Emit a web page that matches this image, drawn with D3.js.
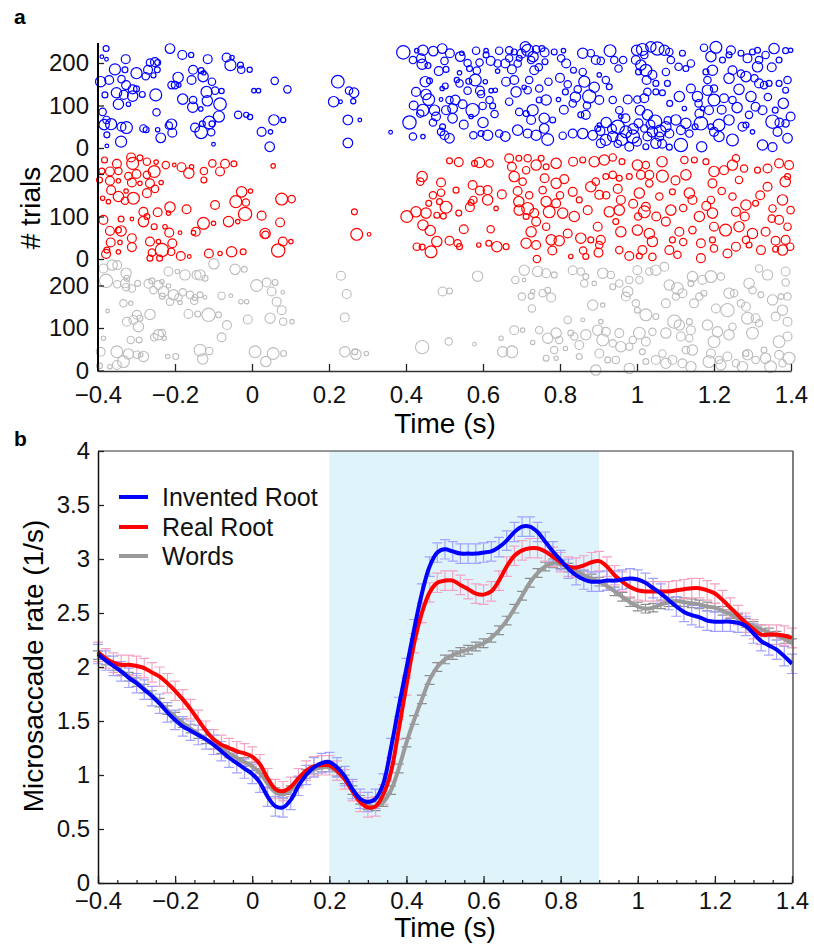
<!DOCTYPE html>
<html>
<head>
<meta charset="utf-8">
<script src="https://cdn.jsdelivr.net/npm/d3@7"></script>
<style>
body { margin: 0; background: #fff; }
svg text { font-family: "Liberation Sans", Arial, Helvetica, sans-serif; }
</style>
</head>
<body>
<svg id="fig" width="814" height="947"></svg>
<script>
// ---- data ----
// panel a: one microsaccade per entry -> [time (s), trial #, amplitude]
var inventedPts = [
[-0.379,234,0.8],[-0.39,215,0.5],[-0.378,209,0.5],[-0.328,209,1.2],[-0.356,185,1.5],[-0.33,184,0.8],[-0.393,156,1.4],[-0.371,160,1.2],[-0.339,162,1.0],[-0.327,148,1.2],[-0.352,130,1.4],[-0.333,125,1.2],[-0.31,122,1.4],[-0.382,125,0.8],[-0.347,103,1.4],[-0.321,103,0.6],[-0.3,176,1.5],[-0.276,169,1.0],[-0.27,184,1.2],[-0.265,201,1.0],[-0.252,202,1.2],[-0.245,201,0.8],[-0.246,184,0.8],[-0.256,171,0.7],[-0.213,234,1.3],[-0.181,219,1.2],[-0.158,219,0.7],[-0.115,209,1.2],[-0.066,213,1.2],[-0.056,195,1.5],[-0.052,213,0.6],[-0.03,195,0.8],[-0.028,184,1.0],[-0.006,184,0.7],[-0.153,184,1.2],[-0.132,182,0.8],[-0.125,177,0.6],[-0.127,168,1.4],[-0.104,156,1.0],[-0.192,166,1.4],[-0.209,148,1.0],[-0.2,148,1.0],[-0.19,148,0.6],[-0.157,160,1.2],[-0.118,132,1.5],[-0.096,135,1.0],[-0.079,134,0.7],[-0.25,125,1.6],[-0.31,138,1.2],[-0.3,139,0.8],[-0.285,126,0.8],[-0.18,115,1.4],[-0.153,113,1.0],[-0.154,96,1.4],[-0.116,111,1.4],[-0.083,103,1.7],[-0.133,92,0.6],[-0.248,84,1.0],[-0.388,85,1.0],[-0.378,66,1.0],[-0.384,55,1.4],[-0.366,56,1.5],[-0.339,50,1.2],[-0.326,48,1.6],[-0.377,31,0.8],[-0.377,5,0.5],[-0.34,15,1.5],[-0.282,46,1.0],[-0.275,43,0.8],[-0.245,43,0.6],[-0.237,24,1.3],[-0.209,56,1.4],[-0.216,53,1.0],[-0.207,36,1.2],[-0.148,48,1.2],[-0.132,37,1.7],[-0.111,60,1.7],[-0.086,74,1.5],[-0.129,57,0.8],[-0.104,57,0.8],[-0.106,37,1.0],[-0.1,9,0.5],[-0.036,78,1.0],[-0.015,78,0.7],[-0.005,73,0.7],[0.005,135,0.6],[0.017,135,0.6],[0.059,158,1.0],[0.092,138,1.0],[0.025,38,1.2],[0.048,38,0.6],[0.046,3,1.3],[0.057,66,1.4],[0.081,66,0.7],[0.223,156,1.7],[0.212,109,1.4],[0.23,109,0.5],[0.252,135,1.0],[0.265,130,1.3],[0.263,110,0.7],[0.249,66,1.3],[0.28,66,0.5],[0.249,12,1.3],[0.36,37,0.5],
[0.393,225,1.8],[0.418,207,1.0],[0.428,229,0.6],[0.444,230,1.4],[0.439,211,1.2],[0.442,197,1.4],[0.457,194,0.8],[0.471,228,1.3],[0.494,234,1.3],[0.514,223,1.2],[0.485,181,1.2],[0.504,185,0.8],[0.426,132,1.2],[0.45,156,1.4],[0.461,158,0.8],[0.452,126,1.4],[0.459,114,1.6],[0.444,89,1.6],[0.437,81,1.0],[0.474,89,1.4],[0.478,74,1.2],[0.409,60,1.8],[0.418,27,1.0],[0.444,27,0.6],[0.494,140,0.6],[0.502,146,0.8],[0.491,114,0.5],[0.513,113,1.0],[0.504,89,1.2],[0.521,70,1.3],[0.491,38,1.0],[0.5,30,1.2],[0.513,23,1.3],[0.495,50,0.8],
[0.541,215,1.3],[0.545,223,0.6],[0.582,229,1.0],[0.608,229,0.6],[0.608,219,0.8],[0.591,201,1.0],[0.565,187,0.8],[0.539,177,0.6],[0.584,182,1.0],[0.58,160,1.6],[0.563,157,0.8],[0.606,156,0.6],[0.592,135,1.2],[0.595,127,1.0],[0.532,160,0.7],[0.539,152,1.0],[0.56,135,1.0],[0.528,113,1.3],[0.521,93,1.3],[0.547,103,1.2],[0.573,89,1.8],[0.599,99,1.0],[0.621,135,0.6],[0.632,136,0.6],[0.569,74,0.6],[0.575,30,1.0],[0.595,34,0.8],[0.612,30,1.4],[0.642,34,1.0],[0.658,27,1.3],[0.625,99,0.8],[0.617,113,1.0],[0.642,229,1.0],[0.638,199,1.0],[0.638,181,0.6],
[0.668,230,1.0],[0.681,226,0.8],[0.71,238,1.4],[0.716,230,1.6],[0.738,232,1.0],[0.753,234,0.8],[0.668,211,1.0],[0.694,211,0.8],[0.725,207,1.0],[0.658,199,1.2],[0.69,199,1.0],[0.733,183,1.2],[0.761,203,0.8],[0.66,156,1.2],[0.681,160,1.2],[0.72,160,1.0],[0.707,143,0.6],[0.686,132,1.4],[0.716,136,1.0],[0.746,140,1.0],[0.77,156,1.0],[0.668,109,1.0],[0.694,85,1.0],[0.712,81,0.8],[0.729,89,1.5],[0.759,70,1.4],[0.725,66,1.2],[0.764,113,1.4],[0.746,113,0.8],[0.69,42,1.4],[0.716,34,1.2],[0.738,30,1.4],[0.768,20,1.6],[0.759,46,1.3],[0.781,66,0.8],[0.807,29,1.0],
[0.785,226,0.8],[0.809,229,0.6],[0.803,211,1.0],[0.816,199,1.2],[0.835,183,0.8],[0.859,223,1.4],[0.88,223,1.0],[0.893,207,1.2],[0.906,205,1.0],[0.93,229,1.6],[0.859,179,1.0],[0.863,156,1.5],[0.889,143,1.4],[0.876,121,1.8],[0.902,113,1.2],[0.846,138,1.0],[0.814,132,0.8],[0.796,114,0.6],[0.833,105,1.0],[0.854,78,0.8],[0.867,78,1.2],[0.833,34,1.2],[0.859,34,1.4],[0.885,30,1.3],[0.898,46,0.8],[0.902,54,0.6],[0.919,19,1.5],[0.906,11,1.2],[0.919,160,1.0],[0.902,172,0.6],[0.928,144,0.8],
[0.941,207,1.0],[0.952,187,1.0],[0.964,207,1.0],[0.937,113,1.0],[0.954,89,1.0],[0.976,114,1.2],[0.958,74,0.6],[0.95,50,1.8],[0.971,38,1.6],[0.989,27,1.8],[0.98,3,1.2],[0.937,27,1.4],[0.999,230,1.4],[1.014,232,1.6],[1.036,238,1.4],[1.053,234,1.8],[0.997,207,1.2],[1.019,219,1.0],[1.01,195,1.4],[1.023,183,1.6],[1.004,179,0.8],[1.025,160,1.2],[1.04,172,1.2],[1.049,152,0.8],[1.027,132,1.0],[1.049,132,0.8],[1.066,130,0.8],[1.001,114,1.0],[1.019,117,1.2],[1.008,89,1.3],[1.027,78,1.4],[1.047,62,1.8],[1.004,58,1.2],[1.019,46,1.0],[1.04,38,1.4],[1.027,27,1.2],[1.058,27,1.2],[1.049,11,1.4],[1.023,3,0.8],[1.075,50,1.4],
[1.071,230,1.4],[1.084,226,1.0],[1.088,207,1.0],[1.118,223,0.8],[1.108,191,1.0],[1.14,199,1.0],[1.127,187,0.8],[1.075,179,1.0],[1.079,152,0.8],[1.11,121,1.4],[1.085,105,0.8],[1.123,93,0.6],[1.101,66,1.4],[1.127,58,1.4],[1.114,42,1.2],[1.084,34,1.2],[1.136,34,1.0],[1.114,7,1.8],[1.084,2,0.8],[1.157,121,1.4],[1.162,81,1.2],[1.166,58,1.8],[1.151,50,0.8],[1.174,236,1.0],[1.192,215,1.4],[1.179,179,0.8],[1.196,183,1.4],[1.183,160,1.0],[1.183,136,1.4],[1.2,113,1.6],[1.187,89,1.2],[1.17,93,0.6],[1.192,50,0.8],[1.213,54,1.6],[1.2,38,1.2],[1.213,27,1.4],[1.168,3,1.4],[1.205,237,1.6],
[1.244,230,1.2],[1.239,219,0.8],[1.222,207,0.8],[1.248,183,1.2],[1.239,164,1.4],[1.265,138,1.4],[1.226,117,1.2],[1.248,113,1.0],[1.239,66,1.4],[1.248,19,1.6],[1.274,50,1.2],[1.27,223,0.8],[1.287,211,1.2],[1.3,226,0.8],[1.313,230,0.8],[1.317,207,1.0],[1.313,191,1.4],[1.334,219,1.0],[1.356,234,1.4],[1.369,207,0.8],[1.386,229,0.8],[1.399,230,0.6],[1.283,168,1.4],[1.305,164,1.0],[1.317,152,1.2],[1.33,148,1.0],[1.343,152,0.8],[1.369,152,0.8],[1.391,160,1.0],[1.386,136,0.8],[1.296,121,1.4],[1.308,97,1.2],[1.326,89,1.2],[1.359,89,0.8],[1.291,78,1.0],[1.352,62,1.8],[1.386,58,1.0],[1.399,74,1.2],[1.365,38,1.2],[1.391,23,1.3],[1.326,7,1.4],[1.352,2,1.2],[1.3,38,0.6],[1.283,54,0.8],
[0.92,60,1.4],[0.935,45,1.2],[0.96,20,1.6],[0.99,45,1.4],[1.0,15,1.2],[1.035,55,1.2],[1.06,40,1.6],[1.065,10,1.2],[0.95,10,1.0],[0.905,40,1.2],[1.08,65,1.0],[0.97,70,1.2],[0.7,222,1.2],[0.73,215,1.4],[0.745,190,1.0],[0.675,185,1.2],[0.76,225,1.2],[0.8,165,1.2],[0.82,150,1.0],[0.84,120,1.4],[0.87,100,1.0],[0.81,90,1.2],[1.14,140,1.2],[1.16,105,1.0],[1.2,140,1.0],[1.22,90,1.2],[1.26,95,1.4],[1.27,175,1.0],[1.35,190,1.2],[1.38,105,1.4],[1.34,120,1.0],[1.37,60,1.2],[0.42,100,1.2],[0.47,60,1.0],[0.55,55,1.2],[0.6,60,1.4],[0.63,80,1.0],[0.56,200,1.0],[0.62,205,1.2],[0.5,205,1.0]
];
var realPts = [
[-0.383,233,0.8],[-0.351,224,1.2],[-0.314,239,1.2],[-0.31,225,1.6],[-0.291,238,0.8],[-0.273,229,1.0],[-0.249,228,0.6],[-0.224,221,1.0],[-0.202,221,0.5],[-0.183,216,1.2],[-0.157,217,0.6],[-0.164,202,1.4],[-0.103,225,1.0],[-0.07,224,1.2],[-0.047,224,0.8],[-0.083,206,1.2],[-0.125,207,1.0],[-0.125,186,0.8],[-0.39,207,0.8],[-0.369,206,1.2],[-0.347,207,1.0],[-0.321,195,1.0],[-0.3,200,1.2],[-0.254,206,1.6],[-0.273,198,1.0],[-0.396,186,0.8],[-0.369,184,1.2],[-0.347,184,0.6],[-0.312,180,1.2],[-0.291,178,0.6],[-0.265,178,1.2],[-0.236,180,0.6],[-0.273,155,1.2],[-0.252,165,1.0],[-0.366,162,1.2],[-0.347,147,1.4],[-0.327,160,0.6],[-0.33,137,1.0],[-0.308,143,1.6],[-0.388,143,0.6],[-0.373,135,0.6],[-0.282,111,1.2],[-0.282,88,1.4],[-0.273,100,0.8],[-0.245,110,1.2],[-0.213,122,1.4],[-0.17,117,1.2],[-0.217,108,0.6],[-0.386,92,1.2],[-0.34,94,0.8],[-0.312,94,0.5],[-0.254,76,0.8],[-0.226,76,0.6],[-0.215,62,1.2],[-0.369,66,1.2],[-0.34,66,1.4],[-0.347,68,0.8],[-0.312,49,1.2],[-0.343,39,0.6],[-0.367,39,1.2],[-0.377,21,0.8],[-0.379,12,1.2],[-0.347,17,0.6],[-0.312,28,1.2],[-0.265,41,1.2],[-0.243,41,0.6],[-0.234,21,1.8],[-0.26,15,1.0],[-0.265,2,0.8],[-0.24,2,0.8],[-0.207,37,1.2],[-0.21,17,1.0],[-0.185,7,1.2],[-0.163,6,0.5],[-0.187,62,0.5],[-0.152,62,0.6],[-0.146,64,1.2],[-0.126,84,1.6],[-0.1,84,0.6],[-0.096,127,1.2],[-0.042,135,1.6],[-0.016,133,1.0],[-0.027,158,1.4],[-0.004,160,0.6],[-0.018,106,1.8],[-0.061,88,1.4],[-0.037,88,0.6],[0.025,102,1.2],[0.034,60,1.4],[0.035,57,1.0],[0.077,141,1.6],[0.103,141,1.0],[0.073,86,1.2],[0.08,41,1.2],[0.101,41,0.6],[0.068,20,1.8],[0.055,219,0.6],[-0.053,17,1.4],[-0.023,17,0.8],[-0.112,13,1.2],[-0.083,13,0.6],[0.272,58,1.6],[0.304,58,0.5],[0.266,111,0.8],
[0.402,100,1.6],[0.426,111,1.4],[0.442,194,1.4],[0.437,182,1.0],[0.452,108,1.4],[0.444,80,1.4],[0.463,67,1.4],[0.428,29,1.0],[0.442,28,0.8],[0.465,17,1.6],[0.48,41,1.4],[0.459,131,0.8],[0.48,103,0.8],[0.491,180,1.2],[0.491,156,1.0],[0.487,135,0.8],[0.504,122,1.6],[0.497,101,0.8],[0.513,43,1.2],[0.534,37,1.0],[0.539,29,0.8],[0.537,108,0.8],[0.53,162,0.8],[0.513,231,0.8],[0.537,228,1.2],[0.569,133,0.8],[0.573,174,1.2],[0.592,161,1.2],[0.575,139,1.0],[0.566,122,1.2],[0.591,227,1.4],[0.617,225,1.0],[0.578,225,0.8],[0.612,162,1.2],[0.612,139,1.4],[0.634,119,0.6],[0.615,37,0.8],[0.636,29,1.4],[0.66,29,0.8],[0.589,33,0.6],[0.649,152,1.2],
[0.668,237,1.2],[0.675,217,1.2],[0.693,237,0.8],[0.716,237,1.0],[0.681,194,1.4],[0.703,182,1.0],[0.712,209,1.0],[0.738,221,1.4],[0.764,217,0.8],[0.79,225,1.4],[0.751,237,0.8],[0.693,135,1.4],[0.716,119,1.6],[0.694,115,1.4],[0.712,100,0.8],[0.733,108,1.2],[0.738,88,1.2],[0.725,64,1.4],[0.712,37,1.4],[0.738,33,1.2],[0.764,135,1.4],[0.79,131,1.2],[0.772,111,1.6],[0.807,108,1.4],[0.764,76,1.0],[0.777,45,1.4],[0.798,43,1.4],[0.755,162,1.0],[0.79,178,1.4],[0.811,188,1.2],[0.833,158,1.2],[0.834,229,1.2],[0.859,233,0.8],[0.889,229,1.4],[0.88,170,1.4],[0.893,182,1.0],[0.902,151,1.2],[0.85,139,0.8],[0.837,100,1.4],[0.872,115,1.2],[0.898,76,1.2],[0.854,49,1.4],[0.88,45,0.8],[0.906,45,1.2],[0.902,33,1.0],[0.828,6,0.6],[0.867,6,0.8],
[0.915,233,1.4],[0.937,239,1.0],[0.961,229,0.8],[0.954,190,0.8],[0.937,198,1.0],[0.919,194,0.8],[0.928,111,1.4],[0.954,115,1.4],[0.958,139,1.2],[0.945,88,0.8],[0.958,64,1.4],[0.954,21,1.0],[0.98,7,1.2],[1.006,7,0.8],[0.98,194,0.8],[1.001,221,1.4],[1.023,221,1.0],[1.01,198,1.2],[1.032,198,1.2],[1.065,229,1.4],[1.066,195,1.6],[1.006,155,1.4],[1.032,178,1.0],[1.023,123,1.2],[1.019,111,1.6],[1.003,100,1.0],[1.001,68,1.4],[1.032,60,1.4],[1.04,41,1.4],[1.014,21,1.2],[1.058,147,1.0],[1.088,115,1.4],[1.075,88,1.2],[1.11,64,1.2],[1.084,21,1.2],[1.105,10,1.0],[1.092,45,0.8],[1.092,158,0.8],[1.127,198,1.4],[1.123,233,1.0],[1.149,233,0.8],[1.136,155,1.4],[1.144,139,1.2],[1.162,100,1.4],[1.144,68,1.0],[1.166,37,1.2],[1.166,2,1.2],
[1.179,229,0.8],[1.2,206,1.4],[1.196,178,1.2],[1.192,139,1.0],[1.196,108,1.4],[1.2,76,1.2],[1.196,45,0.8],[1.23,68,1.6],[1.235,13,1.2],[1.226,209,1.2],[1.248,221,1.4],[1.257,237,1.0],[1.278,213,1.0],[1.265,186,1.0],[1.248,147,1.0],[1.283,127,1.4],[1.308,131,0.8],[1.257,111,1.2],[1.265,76,1.4],[1.3,60,1.4],[1.283,45,1.0],[1.257,29,1.2],[1.291,33,0.8],[1.313,209,0.8],[1.339,213,1.2],[1.369,225,1.2],[1.395,221,1.2],[1.391,194,0.8],[1.339,170,1.2],[1.385,182,1.4],[1.378,139,1.4],[1.352,119,1.0],[1.399,115,1.0],[1.369,92,1.2],[1.391,76,1.0],[1.334,64,1.2],[1.36,43,1.2],[1.386,45,1.2],[1.398,29,1.0],[1.378,21,1.4],[1.36,23,0.8],[1.322,21,1.2],
[0.69,160,1.2],[0.72,150,1.0],[0.76,190,1.2],[0.8,150,1.0],[0.82,60,1.2],[0.86,20,1.0],[0.92,150,1.0],[0.95,165,1.2],[0.99,130,1.2],[1.05,100,1.2],[1.1,185,1.2],[1.12,120,1.0],[1.18,125,1.2],[1.22,160,1.0],[1.28,100,1.2],[1.32,150,1.2],[1.35,95,1.0],[0.74,0,1.0],[0.78,20,1.2],[0.9,15,1.2],[1.12,40,1.0],[1.2,25,1.0],[1.04,5,1.0],[0.62,70,1.0],[0.55,70,1.2],[0.47,150,1.0]
];
var wordsPts = [
[-0.386,240,1.2],[-0.363,248,1.4],[-0.35,248,1.2],[-0.327,229,1.4],[-0.379,211,1.8],[-0.35,203,1.0],[-0.33,205,1.2],[-0.325,217,0.8],[-0.312,193,1.0],[-0.297,205,0.8],[-0.327,196,1.0],[-0.269,204,1.2],[-0.26,211,0.8],[-0.256,189,1.0],[-0.243,201,1.2],[-0.234,209,0.6],[-0.23,186,1.4],[-0.233,175,0.8],[-0.217,199,0.6],[-0.217,233,1.2],[-0.194,233,0.6],[-0.174,225,1.4],[-0.204,178,1.4],[-0.191,172,1.0],[-0.213,162,1.0],[-0.187,160,0.6],[-0.18,184,1.0],[-0.161,178,1.0],[-0.144,225,1.2],[-0.135,225,1.4],[-0.122,217,0.8],[-0.148,172,0.8],[-0.15,164,1.0],[-0.135,178,0.8],[-0.122,172,0.5],[-0.099,251,1.4],[-0.044,238,1.4],[-0.02,238,0.8],[-0.079,176,1.0],[-0.055,176,0.5],[-0.029,162,0.6],[-0.014,162,0.6],[0.012,200,1.6],[0.038,207,1.2],[0.051,186,1.2],[0.06,207,0.8],[0.08,184,0.5],[0.064,162,1.2],[0.077,142,1.2],[0.081,115,1.0],[0.104,115,0.6],[0.047,123,1.4],[-0.165,133,1.2],[-0.141,133,0.8],[-0.113,131,1.8],[-0.087,131,0.8],[-0.065,107,1.2],[-0.079,78,1.2],[-0.011,120,1.2],[0.008,44,1.6],[0.036,21,1.4],[0.055,40,1.6],[0.082,40,0.8],[-0.135,48,1.6],[-0.128,27,1.4],[-0.111,46,1.0],[-0.198,33,0.8],[-0.219,33,0.6],[-0.243,84,1.4],[-0.234,88,1.0],[-0.254,78,1.0],[-0.228,76,0.6],[-0.265,132,1.4],[-0.299,131,1.2],[-0.291,123,0.8],[-0.308,119,1.2],[-0.295,103,1.4],[-0.325,115,1.2],[-0.334,158,1.0],[-0.315,158,0.6],[-0.375,140,0.5],[-0.315,72,1.0],[-0.293,72,0.8],[-0.386,76,0.6],[-0.393,44,1.2],[-0.351,44,1.6],[-0.321,39,1.4],[-0.299,37,1.0],[-0.282,33,1.4],[-0.289,37,0.6],[-0.334,21,1.6],[-0.351,13,1.2],[-0.369,9,0.6],[-0.396,11,0.8],[0.231,223,1.2],[0.246,180,1.2],[0.241,125,1.2],[0.241,44,1.4],[0.27,38,1.4],[0.267,44,0.8],[0.297,40,0.6],
[0.586,222,1.4],[0.495,186,1.2],[0.513,187,0.8],[0.442,55,1.8],[0.511,68,1.0],[0.578,62,0.5],[0.651,44,1.4],[0.675,44,1.6],[0.647,76,0.6],[0.681,95,1.2],[0.703,95,0.6],[0.684,213,1.0],[0.707,236,1.4],[0.707,213,0.5],[0.742,233,1.4],[0.764,229,1.2],[0.785,225,0.8],[0.701,174,1.0],[0.725,175,0.8],[0.729,186,0.6],[0.727,146,1.0],[0.755,182,1.0],[0.777,172,1.2],[0.768,189,0.8],[0.729,66,0.6],[0.746,95,1.0],[0.768,76,1.4],[0.79,88,1.4],[0.798,72,1.0],[0.785,48,1.0],[0.764,29,0.8],[0.79,29,0.6],[0.82,119,1.0],[0.828,88,0.8],[0.814,52,0.6],[0.837,80,1.0],[0.833,236,1.2],[0.854,233,1.0],[0.867,221,0.8],[0.863,205,1.0],[0.889,205,0.6],[0.859,119,0.5],[0.867,84,1.4],[0.85,60,1.2],[0.85,33,0.8],[0.885,154,1.4],[0.911,154,0.6],[0.898,95,1.4],[0.919,91,1.2],[0.911,72,1.6],[0.902,40,1.2],[0.893,1,1.4],[0.924,25,0.8],[0.945,25,1.0],[0.906,115,0.6],
[0.911,229,1.4],[0.932,225,1.0],[0.937,197,0.8],[0.954,205,1.0],[0.98,213,1.0],[0.976,186,1.4],[0.971,174,1.2],[0.954,88,1.2],[0.937,64,1.0],[0.958,56,1.4],[0.98,56,1.0],[0.997,158,1.0],[1.001,142,0.8],[0.989,72,1.0],[1.006,88,1.6],[1.023,68,1.2],[1.014,44,0.8],[1.023,21,0.8],[0.98,5,1.4],[1.001,236,1.2],[1.006,213,1.0],[1.032,233,1.0],[1.049,236,1.4],[1.071,244,1.2],[1.023,131,1.6],[1.049,127,0.8],[1.04,91,1.0],[1.049,25,1.2],[1.075,17,1.4],[1.066,40,1.0],[1.092,25,1.2],[1.084,201,1.4],[1.105,193,1.6],[1.118,182,1.2],[1.101,174,1.0],[1.075,158,1.2],[1.097,115,1.8],[1.11,107,1.4],[1.075,88,1.4],[1.114,80,1.2],[1.136,115,0.8],[1.14,95,1.2],[1.136,76,1.0],[1.127,48,1.0],[1.144,48,1.4],[1.118,17,1.2],[1.14,9,1.4],
[1.144,221,1.4],[1.14,205,0.8],[1.17,213,1.2],[1.192,221,1.6],[1.218,221,1.0],[1.162,174,1.0],[1.148,158,1.2],[1.174,182,0.8],[1.205,146,1.2],[1.183,107,1.4],[1.209,91,1.4],[1.2,68,1.6],[1.192,40,1.2],[1.187,21,1.6],[1.213,25,1.0],[1.218,13,1.4],[1.235,142,1.8],[1.239,182,1.4],[1.252,182,1.0],[1.248,103,1.0],[1.239,84,1.4],[1.235,33,1.2],[1.257,17,1.0],[1.274,9,1.4],[1.27,158,1.0],[1.283,150,1.2],[1.287,123,1.6],[1.308,123,1.2],[1.317,111,1.0],[1.3,88,1.6],[1.291,205,1.4],[1.3,189,1.0],[1.322,178,0.8],[1.287,37,1.4],[1.283,40,0.8],[1.308,25,1.0],[1.33,48,0.8],[1.334,29,1.4],[1.347,9,1.6],[1.317,240,1.0],[1.339,225,1.4],[1.386,233,1.2],[1.386,207,1.0],[1.352,166,1.4],[1.391,174,1.0],[1.374,174,0.8],[1.378,142,1.4],[1.391,115,1.2],[1.36,127,1.2],[1.369,68,1.6],[1.391,80,1.2],[1.395,29,1.6],[1.369,37,1.2],[1.378,17,1.0]
];

// panel b: microsaccade rate (1/s), one value every 20 ms from -0.4 to 1.4 s
var rateStart = -0.4, rateStep = 0.02;
var rateInvented = [2.12,2.06,2.01,1.96,1.90,1.85,1.79,1.73,1.66,1.58,1.51,1.45,1.41,1.37,1.33,1.28,1.22,1.16,1.11,1.06,
  1.01,0.93,0.80,0.71,0.70,0.77,0.90,1.00,1.07,1.11,1.12,1.07,0.99,0.87,0.78,0.75,0.78,0.92,1.25,1.63,
  1.99,2.35,2.68,2.93,3.06,3.09,3.07,3.05,3.05,3.05,3.06,3.07,3.11,3.17,3.25,3.30,3.30,3.25,3.16,3.07,
  2.99,2.91,2.85,2.81,2.79,2.79,2.80,2.80,2.81,2.82,2.81,2.78,2.73,2.68,2.62,2.56,2.51,2.48,2.46,2.43,
  2.42,2.42,2.42,2.41,2.38,2.31,2.24,2.20,2.16,2.10,2.03];
var rateReal = [2.14,2.08,2.04,2.02,2.02,2.01,1.99,1.95,1.91,1.85,1.78,1.70,1.61,1.51,1.41,1.33,1.28,1.25,1.22,1.20,
  1.17,1.10,0.97,0.87,0.85,0.89,0.97,1.04,1.08,1.09,1.09,1.04,0.96,0.85,0.75,0.70,0.71,0.82,1.03,1.42,
  1.83,2.22,2.50,2.69,2.78,2.80,2.80,2.76,2.72,2.68,2.67,2.70,2.80,2.93,3.03,3.08,3.10,3.10,3.07,3.02,
  2.97,2.93,2.92,2.94,2.97,2.98,2.93,2.85,2.79,2.74,2.71,2.70,2.70,2.70,2.70,2.71,2.72,2.73,2.73,2.71,
  2.68,2.62,2.55,2.48,2.41,2.35,2.30,2.30,2.30,2.29,2.27];
var rateWords = [2.11,2.06,2.01,1.96,1.91,1.86,1.80,1.74,1.67,1.60,1.54,1.48,1.43,1.38,1.33,1.28,1.24,1.20,1.16,1.12,
  1.08,1.02,0.92,0.84,0.82,0.86,0.94,1.01,1.05,1.07,1.07,1.03,0.96,0.86,0.77,0.72,0.71,0.75,0.86,1.06,
  1.30,1.51,1.70,1.88,2.00,2.07,2.11,2.14,2.16,2.19,2.22,2.27,2.34,2.43,2.54,2.66,2.78,2.87,2.93,2.96,
  2.95,2.92,2.89,2.85,2.82,2.79,2.75,2.70,2.65,2.60,2.56,2.54,2.55,2.58,2.60,2.61,2.60,2.59,2.58,2.56,
  2.55,2.52,2.49,2.45,2.41,2.38,2.35,2.32,2.29,2.26,2.22];
// s.e.m. of each curve
var semInvented = 0.09, semReal = 0.09, semWords = 0.04;

var seriesNames = ["Invented Root", "Real Root", "Words"];
var timeTicks = [-0.4, -0.2, 0, 0.2, 0.4, 0.6, 0.8, 1, 1.2, 1.4];
var trialTicks = [0, 100, 200];
var rateTicks = [0, 0.5, 1, 1.5, 2, 2.5, 3, 3.5, 4];
var win = [0.2, 0.9]; // shaded interval (s)

// ---- drawing ----
var svg = d3.select("#fig");
var fmt = d3.format("~g");

function styleAxis(g, fs) {
  g.selectAll(".tick line").attr("stroke", "#222").attr("stroke-width", 1.3);
  g.selectAll(".tick text").attr("font-size", fs).attr("fill", "#111");
}

// panel a : raster of microsaccades
var xA = d3.scaleLinear().domain([-0.4, 1.4]).range([98, 791]);
var rA = d3.scaleLinear().domain([0, 1]).range([0, 3.7]);

var bands = [
  {pts: inventedPts, color: "#0000ff", base: 148, sw: 1.2},
  {pts: realPts, color: "#ff0000", base: 259, sw: 1.2},
  {pts: wordsPts, color: "#bcbcbc", base: 370.5, sw: 1.1}
];

bands.forEach(function(b) {
  var y = d3.scaleLinear().domain([0, 100]).range([b.base, b.base - 42.5]);
  svg.append("g").selectAll("circle").data(b.pts).enter().append("circle")
    .attr("cx", function(d) { return xA(d[0]); })
    .attr("cy", function(d) { return y(d[1]); })
    .attr("r", function(d) { return rA(d[2]); })
    .attr("fill", "none")
    .attr("stroke", b.color)
    .attr("stroke-width", b.sw);
  var ax = svg.append("g").attr("transform", "translate(98,0)")
    .call(d3.axisLeft(y).tickValues(trialTicks).tickFormat(fmt).tickSizeInner(-6).tickSizeOuter(0).tickPadding(9));
  ax.select(".domain").remove();
  styleAxis(ax, 24);
});

svg.append("line").attr("x1", 98).attr("x2", 98).attr("y1", 43).attr("y2", 371.5)
  .attr("stroke", "#000").attr("stroke-width", 2);

var axA = svg.append("g").attr("transform", "translate(0,371)")
  .call(d3.axisBottom(xA).tickValues(timeTicks).tickFormat(fmt).tickSizeInner(-7).tickSizeOuter(0).tickPadding(15));
axA.select(".domain").attr("stroke", "#333").attr("stroke-width", 1.5);
styleAxis(axA, 24);

svg.append("text").attr("x", 445).attr("y", 433).attr("text-anchor", "middle")
  .attr("font-size", 28).text("Time (s)");
svg.append("text").attr("transform", "translate(40,208) rotate(-90)").attr("text-anchor", "middle")
  .attr("font-size", 28).text("# trials");
svg.append("text").attr("x", 14).attr("y", 24).attr("font-size", 21).attr("font-weight", "bold").text("a");

// panel b : microsaccade rate
var xB = d3.scaleLinear().domain([-0.4, 1.4]).range([98, 792]);
var yB = d3.scaleLinear().domain([0, 4]).range([883, 451]);

svg.append("rect").attr("x", xB(win[0])).attr("y", yB(4))
  .attr("width", xB(win[1]) - xB(win[0])).attr("height", yB(0) - yB(4))
  .attr("fill", "#dff3fb");

var series = [
  {name: seriesNames[2], vals: rateWords, sem: semWords, color: "#9a9a9a", bar: "#8f8f8f"},
  {name: seriesNames[1], vals: rateReal, sem: semReal, color: "#ff0000", bar: "#f5a3c3"},
  {name: seriesNames[0], vals: rateInvented, sem: semInvented, color: "#0000ff", bar: "#a3a3ff"}
];

// error bars first so the curves sit on top
series.forEach(function(s) {
  var path = "";
  s.vals.forEach(function(v, i) {
    var x = xB(rateStart + i * rateStep), y1 = yB(v + s.sem), y2 = yB(v - s.sem);
    path += "M" + (x - 5) + "," + y1 + "H" + (x + 5) + "M" + x + "," + y1 + "V" + y2 +
            "M" + (x - 5) + "," + y2 + "H" + (x + 5);
  });
  svg.append("path").attr("d", path).attr("fill", "none")
    .attr("stroke", s.bar).attr("stroke-width", 1.2);
});

var line = d3.line()
  .x(function(d, i) { return xB(rateStart + i * rateStep); })
  .y(function(d) { return yB(d); })
  .curve(d3.curveCatmullRom);

series.forEach(function(s) {
  svg.append("path").datum(s.vals).attr("d", line).attr("fill", "none")
    .attr("stroke", s.color).attr("stroke-width", 4).attr("stroke-linejoin", "round");
});

// frame
svg.append("line").attr("x1", 98).attr("x2", 793).attr("y1", 451).attr("y2", 451).attr("stroke", "#333").attr("stroke-width", 1.2);
svg.append("line").attr("x1", 793).attr("x2", 793).attr("y1", 451).attr("y2", 883).attr("stroke", "#555").attr("stroke-width", 1.5);

var minor = d3.range(-0.4, 1.4001, 0.05);
var axMinor = svg.append("g").attr("transform", "translate(0,883)")
  .call(d3.axisBottom(xB).tickValues(minor).tickFormat("").tickSizeInner(-3).tickSizeOuter(0));
axMinor.select(".domain").remove();
axMinor.selectAll(".tick line").attr("stroke", "#222").attr("stroke-width", 1.2);

var axBx = svg.append("g").attr("transform", "translate(0,883)")
  .call(d3.axisBottom(xB).tickValues(timeTicks).tickFormat(fmt).tickSizeInner(-7).tickSizeOuter(0).tickPadding(9));
axBx.select(".domain").attr("stroke", "#111").attr("stroke-width", 1.5);
styleAxis(axBx, 24);

var axBy = svg.append("g").attr("transform", "translate(98,0)")
  .call(d3.axisLeft(yB).tickValues(rateTicks).tickFormat(fmt).tickSizeInner(-6).tickSizeOuter(0).tickPadding(8));
axBy.select(".domain").attr("stroke", "#111").attr("stroke-width", 1.5);
styleAxis(axBy, 24);

// legend
var legY = [497, 527, 556];
var legCol = ["#0000ff", "#ff0000", "#9a9a9a"];
seriesNames.forEach(function(n, i) {
  svg.append("line").attr("x1", 119).attr("x2", 148).attr("y1", legY[i]).attr("y2", legY[i])
    .attr("stroke", legCol[i]).attr("stroke-width", 4);
  svg.append("text").attr("x", 162).attr("y", legY[i]).attr("dy", "0.35em")
    .attr("font-size", 25).attr("fill", "#111").text(n);
});

svg.append("text").attr("x", 445).attr("y", 937).attr("text-anchor", "middle")
  .attr("font-size", 28).text("Time (s)");
svg.append("text").attr("transform", "translate(43,666) rotate(-90)").attr("text-anchor", "middle")
  .attr("font-size", 28).text("Microsaccade rate (1/s)");
svg.append("text").attr("x", 14).attr("y", 446).attr("font-size", 21).attr("font-weight", "bold").text("b");
</script>
</body>
</html>
